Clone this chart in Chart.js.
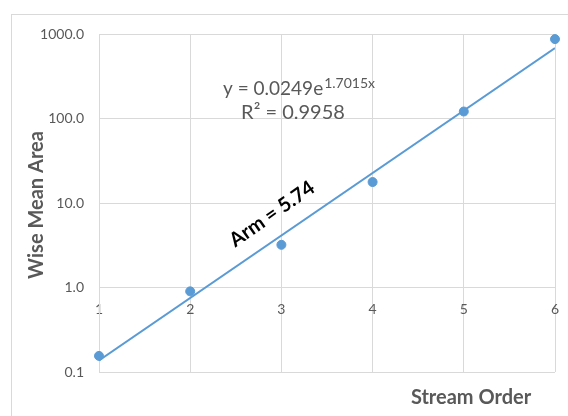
<!DOCTYPE html>
<html>
<head>
<meta charset="utf-8">
<script src="https://cdn.jsdelivr.net/npm/chart.js@4/dist/chart.umd.min.js"></script>
<style>
  html, body { margin: 0; padding: 0; background: #fff; overflow: hidden; }
  #frame { position: absolute; left: 11px; top: 14px; width: 600px; height: 450px; border: 1px solid #d9d9d9; }
  #wrap { position: absolute; left: 0; top: 0; width: 568px; height: 416px; }
</style>
</head>
<body>
<div id="frame"></div>
<div id="wrap"><canvas id="c"></canvas></div>
<script>
// stream order vs mean area
var orders = [1, 2, 3, 4, 5, 6];
var meanArea = [0.155, 0.90, 3.2, 17.7, 121, 870];
// exponential trendline, its two ends
var trendX = [1, 6];
var trendY = [0.137, 680];
var yTicks = [0.1, 1, 10, 100, 1000];

var FONT = 'Lato, "Open Sans", sans-serif';
var GRAY = '#595959';
var GRID = '#d9d9d9';
var BLUE = '#5b9bd5';

function pts(xs, ys) { return xs.map(function (x, i) { return { x: x, y: ys[i] }; }); }

/* equation, R², slope label and axis titles */
var labels = {
  id: 'labels',
  afterDraw: function (chart) {
    var ctx = chart.ctx;
    ctx.save();
    ctx.fillStyle = GRAY;
    ctx.textBaseline = 'middle';
    ctx.textAlign = 'left';
    ctx.font = '19px ' + FONT;
    var main = 'y = 0.0249e';
    ctx.fillText(main, 223, 89);
    var w = ctx.measureText(main).width;
    ctx.font = '14px ' + FONT;
    ctx.fillText('1.7015x', 223 + w + 1, 83);
    ctx.font = '20px ' + FONT;
    ctx.textAlign = 'center';
    ctx.fillText('R\u00B2 = 0.9958', 293, 113);

    ctx.font = 'bold 20px ' + FONT;
    ctx.fillText('Stream Order', 471, 398);
    ctx.save();
    ctx.translate(37, 205);
    ctx.rotate(-Math.PI / 2);
    ctx.fillText('Wise Mean Area', 0, 0);
    ctx.restore();

    ctx.fillStyle = '#000';
    ctx.font = 'bold 20px ' + FONT;
    ctx.translate(272, 214);
    ctx.rotate(-35 * Math.PI / 180);
    ctx.fillText('Arm = 5.74', 0, 0);
    ctx.restore();
  }
};

new Chart(document.getElementById('c'), {
  type: 'scatter',
  data: {
    datasets: [
      {
        data: pts(orders, meanArea), backgroundColor: BLUE, borderColor: BLUE,
        pointRadius: 4.5, pointHoverRadius: 4.5, showLine: false, clip: false, order: 0
      },
      {
        data: pts(trendX, trendY), borderColor: BLUE, borderWidth: 2,
        pointRadius: 0, showLine: true, fill: false, order: 1
      }
    ]
  },
  options: {
    responsive: true,
    maintainAspectRatio: false,
    animation: false,
    events: [],
    layout: { padding: { left: 0, right: 13, top: 34, bottom: 44 } },
    plugins: { legend: { display: false }, tooltip: { enabled: false } },
    scales: {
      x: {
        type: 'linear', min: 1, max: 6,
        position: { y: 1 },
        z: 1,
        afterFit: function (s) { s.height = 0; s.paddingLeft = 0; s.paddingRight = 0; },
        grid: { color: GRID, lineWidth: 1, drawTicks: false },
        border: { color: GRID },
        ticks: { stepSize: 1, color: GRAY, padding: 14, font: { family: FONT, size: 14 } }
      },
      y: {
        type: 'logarithmic', min: 0.1, max: 1000,
        afterFit: function (s) { s.width = 99; },
        afterBuildTicks: function (s) { s.ticks = yTicks.map(function (v) { return { value: v }; }); },
        grid: { color: GRID, lineWidth: 1, drawTicks: false },
        border: { color: GRID },
        ticks: {
          color: GRAY, padding: 15, font: { family: FONT, size: 14 },
          callback: function (v) { return Number(v).toFixed(1); }
        }
      }
    }
  },
  plugins: [labels]
});
</script>
</body>
</html>
